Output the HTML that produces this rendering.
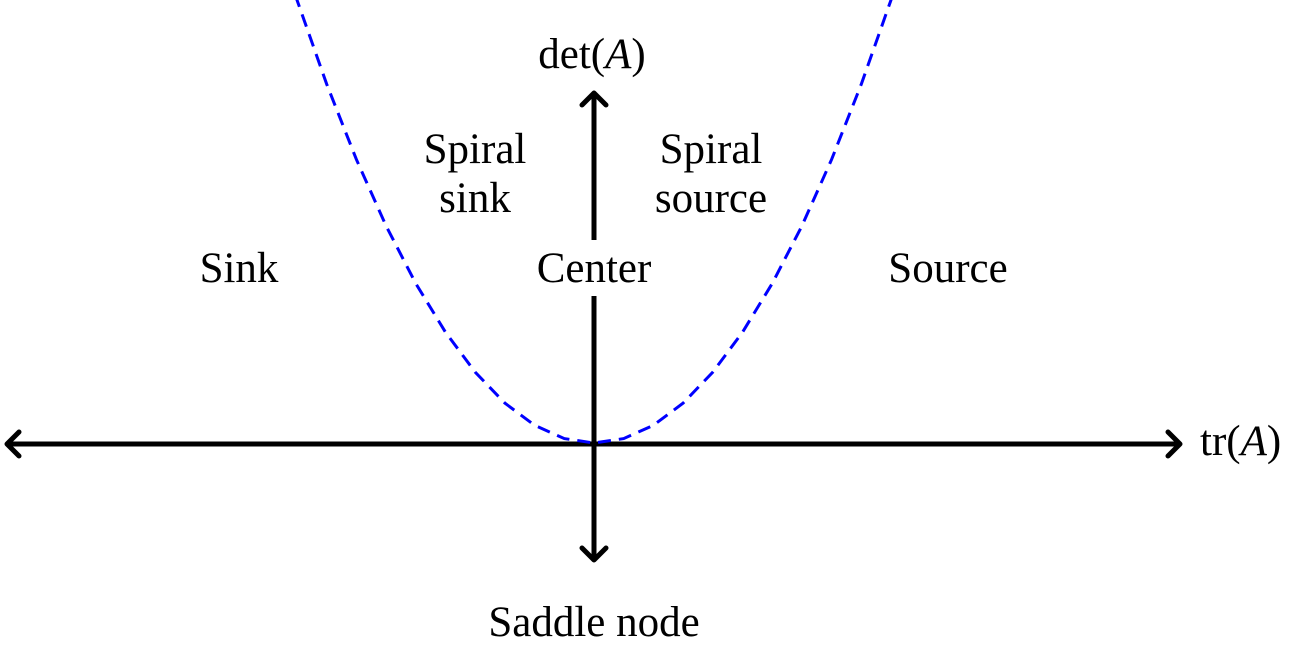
<!DOCTYPE html>
<html><head><meta charset="utf-8"><style>
html,body{margin:0;padding:0;background:#fff;}
svg{display:block;}
text{font-family:"Liberation Serif",serif;fill:#000;}
</style></head><body>
<svg id="chart" width="1311" height="650" viewBox="0 0 1311 650" xmlns="http://www.w3.org/2000/svg">
<g id="axes">
  <line x1="7" y1="444" x2="1180" y2="444" stroke="#000" stroke-width="5"/>
  <path d="M19,432 L7,444 L19,456" fill="none" stroke="#000" stroke-width="5" stroke-linecap="round" stroke-linejoin="round"/>
  <path d="M1168,432 L1180,444 L1168,456" fill="none" stroke="#000" stroke-width="5" stroke-linecap="round" stroke-linejoin="round"/>
  <line x1="594" y1="93" x2="594" y2="240" stroke="#000" stroke-width="5"/>
  <line x1="594" y1="296" x2="594" y2="560" stroke="#000" stroke-width="5"/>
  <path d="M582,105 L594,93 L606,105" fill="none" stroke="#000" stroke-width="5" stroke-linecap="round" stroke-linejoin="round"/>
  <path d="M582,548 L594,560 L606,548" fill="none" stroke="#000" stroke-width="5" stroke-linecap="round" stroke-linejoin="round"/>
</g>
<g id="curve"></g>
<g font-size="43">
  <text x="592" y="68" text-anchor="middle">det(<tspan font-style="italic">A</tspan>)</text>
  <text x="1200" y="455">tr(<tspan font-style="italic">A</tspan>)</text>
  <text x="475" y="163" text-anchor="middle">Spiral</text>
  <text x="475" y="212" text-anchor="middle">sink</text>
  <text x="711" y="163" text-anchor="middle">Spiral</text>
  <text x="711" y="212" text-anchor="middle">source</text>
  <text x="239" y="282" text-anchor="middle">Sink</text>
  <text x="594" y="282" text-anchor="middle">Center</text>
  <text x="948" y="282" text-anchor="middle">Source</text>
  <text x="594" y="636" text-anchor="middle">Saddle node</text>
</g>
</svg>
<script>
// trace sample values and corresponding determinant values (det = tr^2/4 boundary)
const traceValues = [-2.1,-2,-1.8,-1.6,-1.4,-1.2,-1,-0.8,-0.6,-0.4,-0.2,0,0.2,0.4,0.6,0.8,1,1.2,1.4,1.6,1.8,2,2.1];
const detValues = [1.1025,1,0.81,0.64,0.49,0.36,0.25,0.16,0.09,0.04,0.01,0,0.01,0.04,0.09,0.16,0.25,0.36,0.49,0.64,0.81,1,1.1025];
const originX = 594, originY = 443, pxPerTr = 148.5, pxPerDet = 443;
function xScale(t){ return originX + t * pxPerTr; }
function yScale(d){ return originY - d * pxPerDet; }
const g = document.getElementById('curve');
const path = document.createElementNS('http://www.w3.org/2000/svg','path');
let d = '';
traceValues.forEach((t,i)=>{ d += (i? ' L':'M') + xScale(t).toFixed(2) + ',' + yScale(detValues[i]).toFixed(2); });
path.setAttribute('d', d);
path.setAttribute('fill','none');
path.setAttribute('stroke','#0000ff');
path.setAttribute('stroke-width','3');
path.setAttribute('stroke-dasharray','13 8');


g.appendChild(path);
</script>
</body></html>
